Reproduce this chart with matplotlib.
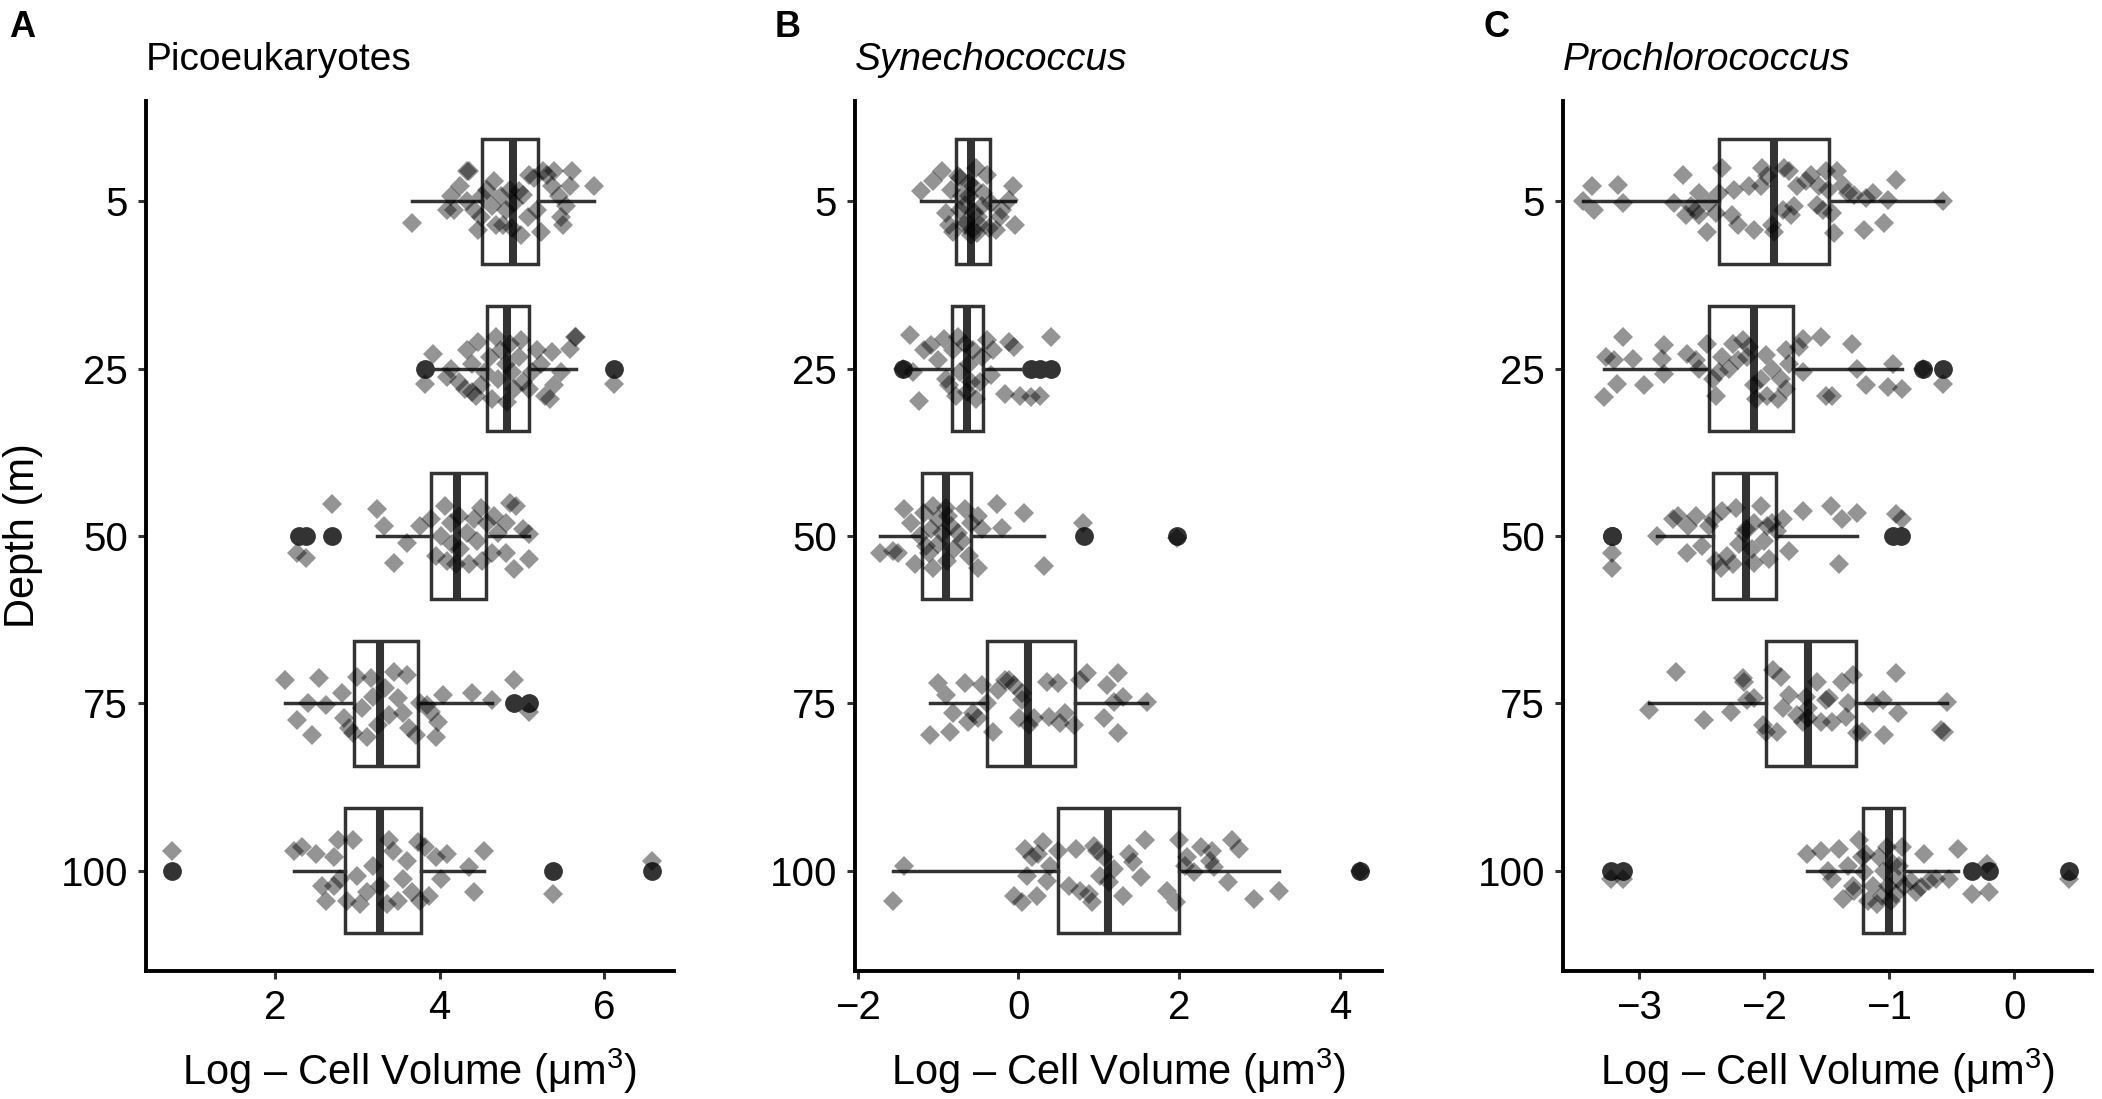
import numpy as np
import matplotlib.pyplot as plt

plt.rcParams['font.family'] = ['Liberation Sans', 'DejaVu Sans']
plt.rcParams['mathtext.fontset'] = 'custom'
plt.rcParams['mathtext.rm'] = 'Liberation Sans'
plt.rcParams['mathtext.it'] = 'Liberation Sans:italic'

depths = ['5', '25', '50', '75', '100']

# ---- Picoeukaryotes: box stats (log cell volume) ----
pico_q1 = [4.51, 4.58, 3.90, 2.96, 2.85]
pico_med = [4.89, 4.82, 4.21, 3.28, 3.28]
pico_q3 = [5.19, 5.09, 4.56, 3.74, 3.77]
pico_lo = [3.66, 3.90, 3.24, 2.12, 2.23]
pico_hi = [5.88, 5.66, 5.09, 4.63, 4.54]
pico_fliers = [[], [3.82, 6.12], [2.29, 2.38, 2.69], [4.90, 5.09], [0.74, 5.38, 6.58]]

# jittered samples: value and vertical jitter (in category units, + = down)
pico_5_x = [3.66, 4.09, 4.17, 4.25, 4.33, 4.36, 4.42, 4.47, 4.50, 4.52, 4.58, 4.63, 4.66, 4.69,
            4.74, 4.80, 4.85, 4.88, 4.90, 4.96, 5.01, 5.07, 5.09, 5.15, 5.18, 5.23, 5.26, 5.31,
            5.36, 5.39, 5.45, 5.47, 5.50, 5.53, 5.58, 5.61, 5.88, 4.33, 4.14, 4.77, 4.99]
pico_5_dy = [.13, .05, .05, -.09, 0, -.18, .05, .17, .09, -.03, -.07, .03, -.12, .14,
             -.03, .05, -.07, .16, .01, -.06, -.04, .09, -.16, -.14, .05, .18, -.18, -.16,
             -.09, -.18, -.03, .09, .14, .03, -.09, -.18, -.09, -.18, -.03, .14, .2]
pico_25_x = [3.82, 3.92, 4.09, 4.14, 4.23, 4.31, 4.33, 4.39, 4.44, 4.47, 4.50, 4.55, 4.61,
             4.63, 4.69, 4.71, 4.74, 4.80, 4.82, 4.85, 4.90, 4.96, 4.99, 5.01, 5.09, 5.12,
             5.18, 5.23, 5.28, 5.36, 5.39, 5.47, 5.58, 5.64, 5.66, 6.12, 4.39, 4.88, 5.34]
pico_25_dy = [.09, -.09, .05, 0, .08, .12, -.11, -.03, .16, -.16, .10, .02, -.07,
              .18, -.19, .06, -.11, -.03, .2, -.15, .12, -.07, -.17, .08, .12, .02,
              -.11, -.03, .16, -.10, .10, .02, -.12, -.19, -.19, .09, .14, .02, .18]
pico_50_x = [2.69, 3.24, 3.32, 3.76, 3.90, 4.01, 4.06, 4.14, 4.23, 4.33, 4.42, 4.50, 4.58,
             4.66, 4.71, 4.80, 4.85, 4.93, 5.01, 5.09, 2.27, 3.44, 4.09, 4.20, 4.36, 4.52,
             4.80, 4.90, 5.09, 4.63, 4.15, 4.25, 3.95, 4.45, 3.60, 2.38]
pico_50_dy = [-.19, -.16, -.06, -.06, -.10, 0, -.18, -.08, -.12, -.02, -.10, -.17, -.08,
              -.12, -.02, -.08, -.2, -.18, -.04, -.01, .10, .16, .15, .17, .17, .15,
              .10, .2, .14, .10, .05, .08, .12, .03, .04, .13]
pico_75_x = [2.12, 2.27, 2.40, 2.45, 2.53, 2.62, 2.81, 2.84, 2.90, 2.95, 3.00, 3.06, 3.11,
             3.16, 3.19, 3.25, 3.33, 3.38, 3.44, 3.49, 3.55, 3.60, 3.63, 3.71, 3.76, 3.85,
             3.90, 3.95, 3.98, 4.04, 4.39, 4.63, 4.90, 5.09]
pico_75_dy = [-.14, .10, 0, .19, -.15, .01, -.06, .09, .15, .18, -.16, .03, .2,
              -.15, -.04, .13, -.09, .07, -.19, -.03, .06, -.17, .15, .19, 0, .01,
              .05, .2, .11, -.05, -.06, -.02, -.14, .05]
pico_100_x = [0.74, 2.23, 2.33, 2.49, 2.57, 2.62, 2.71, 2.76, 2.79, 2.87, 2.95, 3.00, 3.03,
              3.11, 3.19, 3.28, 3.36, 3.43, 3.49, 3.55, 3.60, 3.66, 3.74, 3.82, 3.87, 3.95,
              4.01, 4.09, 4.36, 4.42, 4.54, 5.38, 6.58, 3.38, 2.71, 3.76]
pico_100_dy = [-.12, -.12, -.14, -.10, .09, .18, -.08, -.18, .05, .18, -.18, .03, .2,
               .13, -.03, .09, .2, -.12, .18, .05, -.06, .13, -.17, -.14, .15, -.08,
               .05, -.10, -.02, .13, -.12, .14, -.06, -.18, .09, .18]

# ---- Synechococcus ----
syn_q1 = [-0.77, -0.83, -1.20, -0.39, 0.49]
syn_med = [-0.59, -0.64, -0.90, 0.12, 1.11]
syn_q3 = [-0.35, -0.44, -0.59, 0.70, 2.00]
syn_lo = [-1.21, -1.35, -1.72, -1.10, -1.56]
syn_hi = [-0.04, 0.02, 0.32, 1.60, 3.24]
syn_fliers = [[], [-1.43, 0.16, 0.27, 0.40], [0.81, 1.97], [], [4.25]]

syn_5_x = [-1.21, -1.06, -0.95, -0.90, -0.84, -0.81, -0.75, -0.73, -0.67, -0.61, -0.59, -0.53,
           -0.50, -0.45, -0.39, -0.37, -0.34, -0.28, -0.23, -0.20, -0.12, -0.07, -0.04, -0.86,
           -0.56, -0.48, -0.70, -0.65, -0.62, -0.58, -0.55, -0.72, -0.44, -0.66, -0.52]
syn_5_dy = [-.06, -.12, -.18, .07, -.07, .18, -.15, .05, .14, -.03, .2, -.2,
            .09, .03, -.16, .16, .01, .17, .09, .05, -.01, -.09, .14, .14,
            -.09, .14, -.03, .12, -.11, .17, .06, -.14, -.05, .02, .19]
syn_25_x = [-1.43, -1.35, -1.31, -1.24, -1.17, -1.09, -1.00, -0.92, -0.90, -0.86, -0.81, -0.78,
            -0.73, -0.67, -0.64, -0.61, -0.56, -0.53, -0.48, -0.45, -0.39, -0.34, -0.31, -0.17,
            -0.12, -0.06, 0.02, 0.16, 0.27, 0.40, -0.75, -0.59]
syn_25_dy = [0, -.2, .02, .19, -.11, -.14, -.05, -.18, .06, .10, -.11, .16,
             .02, -.15, .14, -.03, -.11, .18, .08, -.07, -.17, .04, -.11, .15,
             -.16, -.13, .16, .17, .16, -.19, -.19, .08]
syn_50_x = [-1.72, -1.42, -1.34, -1.22, -1.17, -1.09, -1.06, -1.00, -0.90, -0.84, -0.75, -0.67,
            -0.59, -0.50, -0.45, -0.27, -0.20, 0.07, 0.80, -1.56, -1.50, -1.28, -1.06, -0.89,
            -0.50, -0.61, 0.32, -1.11, 1.97, -1.00, -0.95, -0.80, -1.15, -0.70, -0.88]
syn_50_dy = [.10, -.16, -.08, 0, -.14, -.04, -.18, -.10, -.17, -.06, -.02, -.16,
             -.08, -.12, -.04, -.19, -.05, -.14, -.08, .09, .10, .17, .19, .15,
             .19, .12, .18, .10, .01, .05, -.02, .08, .06, .03, -.12]
syn_75_x = [-1.10, -1.00, -0.90, -0.85, -0.81, -0.67, -0.63, -0.56, -0.45, -0.39, -0.31, -0.25,
            -0.17, -0.12, -0.06, 0.01, 0.05, 0.13, 0.19, 0.35, 0.38, 0.49, 0.52, 0.58,
            0.69, 0.77, 0.85, 1.07, 1.10, 1.19, 1.24, 1.24, 1.30, 1.60, -0.50, 0.05]
syn_75_dy = [.19, -.12, -.05, .17, .06, -.12, .11, .06, -.11, 0, .17, -.08,
             -.14, -.14, -.11, .09, -.02, .13, .09, -.13, .08, -.12, .12, .06,
             .13, -.14, -.18, .09, -.11, -.01, -.18, .18, -.04, -.01, .09, -.06]
syn_100_x = [-1.56, -1.42, -0.06, 0.04, 0.08, 0.11, 0.17, 0.23, 0.30, 0.35, 0.39, 0.49,
             0.63, 0.71, 0.76, 0.88, 0.91, 0.94, 0.98, 1.02, 1.07, 1.13, 1.19, 1.30,
             1.38, 1.43, 1.52, 1.57, 1.85, 1.96, 2.00, 2.07, 2.18, 2.27, 2.40, 2.43,
             2.60, 2.65, 2.74, 2.93, 3.24, 2.38, 2.10, 0.24, 4.25]
syn_100_dy = [.18, -.03, .15, .19, -.13, .03, -.08, .15, -.17, .06, -.03, -.12,
              .09, -.13, .12, .14, .19, -.15, -.12, .03, -.08, .07, -.01, .15,
              -.10, -.05, .04, -.18, .12, .19, -.18, -.03, .01, -.14, -.12, -.02,
              .07, -.18, -.13, .17, .12, -.06, -.08, -.10, 0]

# ---- Prochlorococcus ----
pro_q1 = [-2.36, -2.44, -2.41, -1.99, -1.21]
pro_med = [-1.92, -2.08, -2.15, -1.65, -1.00]
pro_q3 = [-1.48, -1.77, -1.91, -1.27, -0.88]
pro_lo = [-3.45, -3.28, -2.86, -2.92, -1.66]
pro_hi = [-0.57, -0.90, -1.26, -0.54, -0.45]
pro_fliers = [[], [-0.73, -0.57], [-3.22, -3.22, -0.97, -0.91], [], [-3.23, -3.13, -0.34, -0.20, 0.44]]

pro_5_x = [-3.45, -3.38, -3.36, -3.17, -3.13, -2.72, -2.65, -2.63, -2.59, -2.55,
           -2.52, -2.52, -2.46, -2.44, -2.39, -2.36, -2.34, -2.26, -2.24, -2.21,
           -2.12, -2.08, -2.03, -2.02, -1.98, -1.94, -1.92, -1.85, -1.84, -1.80,
           -1.79, -1.76, -1.74, -1.67, -1.63, -1.58, -1.56, -1.51, -1.49, -1.46,
           -1.44, -1.42, -1.37, -1.33, -1.28, -1.20, -1.19, -1.13, -1.04, -1.01,
           -0.95, -0.57, -1.53]
pro_5_dy = [0, -.09, .05, -.10, .01, .01, -.16, .08, .03, .05,
            .08, -.05, .18, .01, .07, -.05, -.2, .08, -.07, .14,
            -.09, .17, -.09, -.2, -.15, .14, .18, .05, -.2, -.18,
            .08, .03, -.09, -.12, -.16, .02, -.09, -.18, -.07, .07,
            .19, -.18, -.10, -.05, -.04, .17, -.02, -.05, .13, -.01,
            -.13, 0, .05]
pro_25_x = [-3.28, -3.27, -3.20, -3.18, -3.13, -3.05, -2.96, -2.80, -2.80, -2.82,
            -2.62, -2.55, -2.52, -2.46, -2.41, -2.39, -2.34, -2.28, -2.25, -2.21,
            -2.17, -2.12, -2.08, -2.07, -2.03, -1.99, -1.98, -1.94, -1.89, -1.87,
            -1.83, -1.83, -1.80, -1.72, -1.69, -1.69, -1.55, -1.51, -1.46, -1.30,
            -1.26, -1.19, -1.01, -0.97, -0.90, -0.57, -2.14, -2.36, -0.73]
pro_25_dy = [.17, -.07, -.05, .09, -.19, -.06, .10, -.14, .03, -.06,
             -.09, -.05, 0, -.15, .06, .16, -.07, 0, -.15, -.05,
             -.17, -.13, .10, .18, .06, -.08, .16, 0, .18, .06,
             -.11, .12, -.03, -.13, -.18, .02, -.19, .16, .16, -.15,
             0, .10, .11, -.03, .12, .09, -.07, .02, 0]
pro_50_x = [-2.86, -2.73, -2.69, -2.61, -2.55, -2.44, -2.34, -2.23, -2.16, -2.08, -2.03,
            -1.98, -1.90, -1.85, -1.69, -1.47, -1.38, -1.26, -0.95, -0.90, -2.41, -1.94,
            -3.22, -3.22, -2.62, -2.39, -2.35, -2.25, -2.08, -1.96, -1.40, -2.30,
            -2.20, -2.10, -2.00, -2.50, -1.80, -2.15]
pro_50_dy = [0, -.10, -.12, -.06, -.12, -.06, -.15, -.17, -.02, -.08, -.18,
             -.06, -.03, -.10, -.15, -.18, -.10, -.14, -.13, -.10, -.10, -.08,
             .10, .19, .10, .15, .19, .17, .16, .14, .17, .12,
             .05, .08, .03, .06, .09, -.04]
pro_75_x = [-2.92, -2.71, -2.48, -2.27, -2.17, -2.16, -2.14, -2.08, -2.01, -1.99,
            -1.93, -1.90, -1.87, -1.85, -1.80, -1.74, -1.69, -1.67, -1.65, -1.58,
            -1.55, -1.51, -1.48, -1.46, -1.38, -1.35, -1.33, -1.29, -1.26, -1.22,
            -1.13, -1.05, -1.04, -0.95, -0.93, -0.59, -0.56, -0.54, -1.65]
pro_75_dy = [.04, -.19, .10, .05, -.15, -.13, -.02, -.03, .13, .17,
             -.2, .17, -.16, .03, -.05, .07, .11, -.04, .03, -.13,
             .11, -.02, -.03, .11, -.13, .08, 0, -.17, .18, .17,
             0, -.02, .19, -.18, .06, .16, .17, -.01, .09]
pro_100_x = [-3.23, -1.66, -1.55, -1.49, -1.46, -1.40, -1.37, -1.33, -1.29, -1.28,
             -1.24, -1.20, -1.19, -1.17, -1.13, -1.10, -1.08, -1.06, -1.04, -1.02,
             -1.01, -0.99, -0.97, -0.95, -0.93, -0.90, -0.88, -0.83, -0.79, -0.75,
             -0.72, -0.68, -0.63, -0.52, -0.45, -0.34, -0.22, -0.20, 0.44, -1.22,
             -0.92, -3.13]
pro_100_dy = [.05, -.10, -.12, 0, .05, -.13, .17, -.03, .09, .12,
              -.18, .01, -.10, .18, .09, .2, -.08, .15, 0, -.14,
              .09, .18, -.04, .14, .05, -.14, .09, .06, .13, .10,
              -.10, .06, .05, .05, -.13, .14, -.04, .13, .05, -.08,
              -.03, .05]

box_col = '#333333'


def draw_panel(ax, q1, med, q3, lo, hi, fliers, xs, dys, xlim, xticks):
    stats = []
    for i in range(len(depths)):
        stats.append(dict(q1=q1[i], med=med[i], q3=q3[i], whislo=lo[i],
                          whishi=hi[i], fliers=fliers[i]))
    ax.bxp(stats, positions=range(len(depths)), widths=0.75,
           orientation='horizontal', patch_artist=True, showcaps=False,
           boxprops=dict(facecolor='white', edgecolor=box_col, linewidth=2.5),
           medianprops=dict(color=box_col, linewidth=5.8),
           whiskerprops=dict(color=box_col, linewidth=2.5),
           flierprops=dict(marker='o', markerfacecolor=box_col, markeredgecolor=box_col,
                           markersize=12.5, linestyle='none'))
    for i in range(len(depths)):
        ax.plot(xs[i], i + np.array(dys[i]), 'D', color='black', alpha=0.42,
                markersize=10.5, markeredgewidth=0, zorder=3)
    ax.set_xlim(*xlim)
    ax.set_ylim(4.6, -0.6)
    ax.set_xticks(xticks)
    ax.set_yticks(range(len(depths)))
    ax.set_yticklabels(depths)
    for s in ['top', 'right']:
        ax.spines[s].set_visible(False)
    for s in ['left', 'bottom']:
        ax.spines[s].set_linewidth(2.8)
        ax.spines[s].set_color('black')
    ax.tick_params(length=6, width=2.2, color=box_col, labelsize=29, pad=7,
                   labelcolor='black')
    ax.set_xlabel('Log \u2013 Cell Volume (\u03bcm$^{3}$)', fontsize=30, labelpad=14)


fig = plt.figure(figsize=(21.02, 10.99), dpi=100)
bottom, height = 0.1165, 0.7915
axA = fig.add_axes([0.0695, bottom, 0.2512, height])
axB = fig.add_axes([0.4068, bottom, 0.2507, height])
axC = fig.add_axes([0.7436, bottom, 0.2516, height])

draw_panel(axA, pico_q1, pico_med, pico_q3, pico_lo, pico_hi, pico_fliers,
           [pico_5_x, pico_25_x, pico_50_x, pico_75_x, pico_100_x],
           [pico_5_dy, pico_25_dy, pico_50_dy, pico_75_dy, pico_100_dy],
           (0.43, 6.85), [2, 4, 6])
draw_panel(axB, syn_q1, syn_med, syn_q3, syn_lo, syn_hi, syn_fliers,
           [syn_5_x, syn_25_x, syn_50_x, syn_75_x, syn_100_x],
           [syn_5_dy, syn_25_dy, syn_50_dy, syn_75_dy, syn_100_dy],
           (-2.03, 4.52), [-2, 0, 2, 4])
draw_panel(axC, pro_q1, pro_med, pro_q3, pro_lo, pro_hi, pro_fliers,
           [pro_5_x, pro_25_x, pro_50_x, pro_75_x, pro_100_x],
           [pro_5_dy, pro_25_dy, pro_50_dy, pro_75_dy, pro_100_dy],
           (-3.61, 0.62), [-3, -2, -1, 0])

fig.text(0.011, bottom + height / 2, 'Depth (m)', rotation=90, fontsize=30,
         ha='center', va='center')

title_y = 1 - 70 / 1099
fig.text(0.0695, title_y, 'Picoeukaryotes', fontsize=28, va='baseline')
fig.text(0.4068, title_y, 'Synechococcus', fontsize=28, va='baseline', style='italic')
fig.text(0.7436, title_y, 'Prochlorococcus', fontsize=28, va='baseline', style='italic')

letter_y = 1 - 10 / 1099
fig.text(0.0045, letter_y, 'A', fontsize=26, fontweight='bold', va='top')
fig.text(0.3685, letter_y, 'B', fontsize=26, fontweight='bold', va='top')
fig.text(0.7058, letter_y, 'C', fontsize=26, fontweight='bold', va='top')

fig.savefig('out.png', dpi=100)
